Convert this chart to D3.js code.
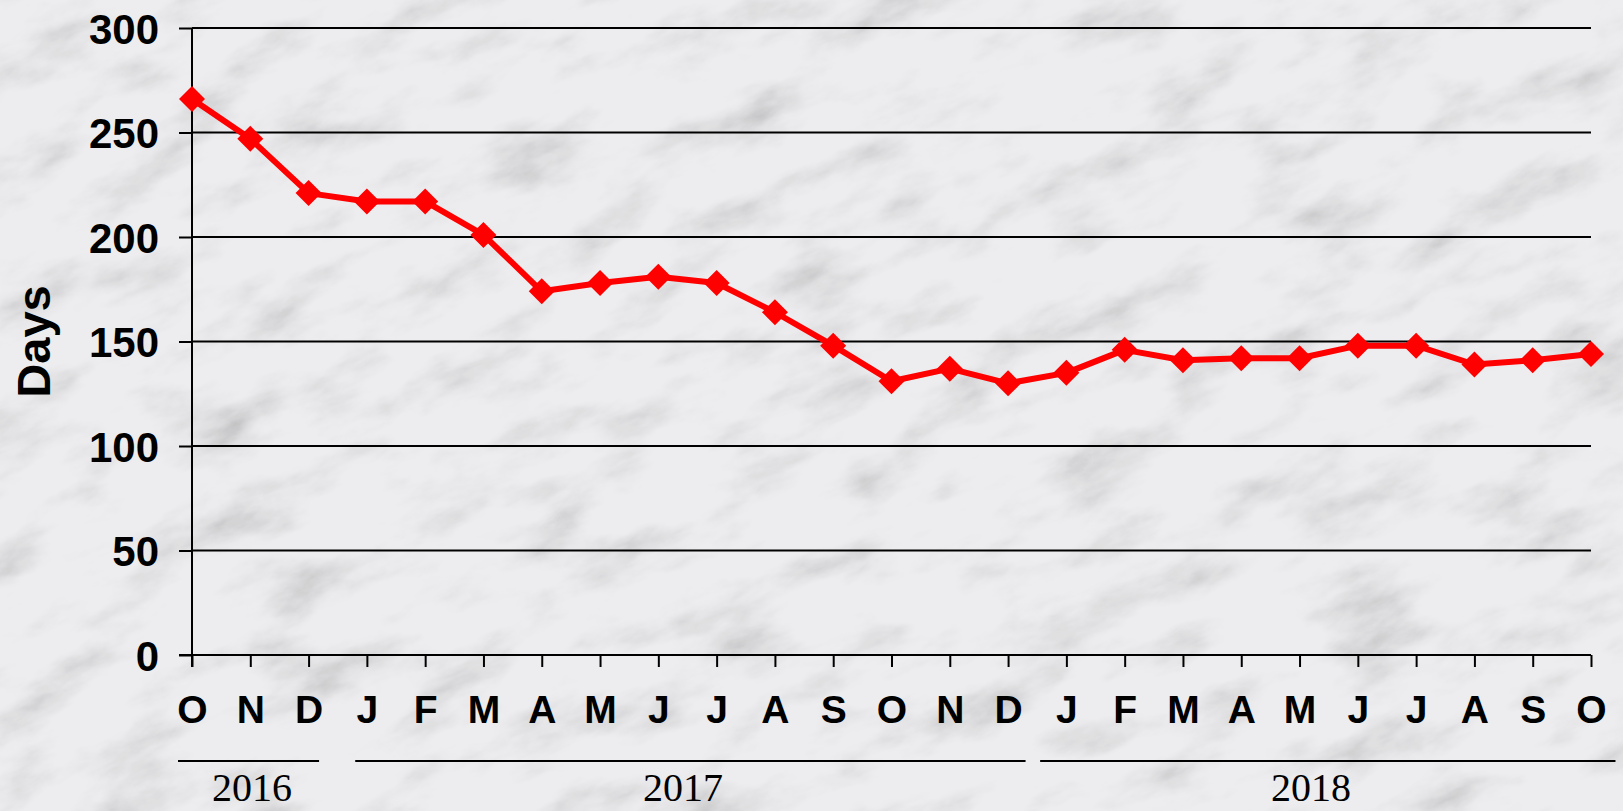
<!DOCTYPE html>
<html>
<head>
<meta charset="utf-8">
<script src="https://cdn.jsdelivr.net/npm/d3@7"></script>
<style>
  html, body { margin: 0; padding: 0; background: #e8e8ea; }
  svg { display: block; }
</style>
</head>
<body>
<svg id="chart" width="1623" height="811"></svg>
<script>
// ---- data ----
const months = ["O","N","D","J","F","M","A","M","J","J","A","S","O","N","D","J","F","M","A","M","J","J","A","S","O"];
const days   = [266, 247, 221, 217, 217, 201, 174, 178, 181, 178, 164, 148, 131, 137, 130, 135, 146, 141, 142, 142, 148, 148, 139, 141, 144];
const yTicks = [0, 50, 100, 150, 200, 250, 300];
const years      = ["2016", "2017", "2018"];
const yearStart  = [0, 3, 15];   // month index where each year begins
const yearEnd    = [2, 14, 24];  // month index where each year ends

const svg = d3.select("#chart");
const W = 1623, H = 811;

// ---- marble-like background ----
const defs = svg.append("defs");
const f = defs.append("filter").attr("id", "marble").attr("x", 0).attr("y", 0).attr("width", "100%").attr("height", "100%");
f.append("feTurbulence").attr("type", "fractalNoise").attr("baseFrequency", "0.01 0.022").attr("numOctaves", 6).attr("seed", 11).attr("result", "n");
f.append("feColorMatrix").attr("in", "n").attr("type", "matrix")
  .attr("values", "0 0 0 0 0  0 0 0 0 0  0 0 0 0 0  -1.5 0 0 0 0.9")
  .attr("result", "a");
f.append("feComponentTransfer").attr("in", "a").attr("result", "b")
  .append("feFuncA").attr("type", "gamma").attr("amplitude", 0.5).attr("exponent", 1.8).attr("offset", 0);
svg.append("rect").attr("width", W).attr("height", H).attr("fill", "#ededef");
svg.append("g").attr("transform", "rotate(-22 811 405)")
  .append("rect").attr("x", -300).attr("y", -400).attr("width", W + 600).attr("height", H + 800)
  .attr("fill", "#9c9ca0").attr("filter", "url(#marble)").attr("opacity", 0.5);

// ---- scales ----
const x = d3.scalePoint().domain(d3.range(months.length)).range([192, 1591]);
const y = d3.scaleLinear().domain([0, 300]).range([655, 28]);
const step = x.step();

const font = "Liberation Sans, Arial, Helvetica, sans-serif";

// ---- gridlines ----
svg.append("g").selectAll("line").data(yTicks.filter(d => d > 0)).join("line")
  .attr("x1", x(0)).attr("x2", x(months.length - 1))
  .attr("y1", d => y(d)).attr("y2", d => y(d))
  .attr("stroke", "#000").attr("stroke-width", 2);

// ---- y axis ----
const yAxis = svg.append("g").attr("transform", `translate(${x(0)},0)`)
  .call(d3.axisLeft(y).tickValues(yTicks).tickSize(13).tickPadding(20).tickSizeOuter(0));
yAxis.select(".domain").attr("stroke", "#000").attr("stroke-width", 2)
  .attr("d", `M0,${y(300)}V${y(0) + 12}`);
yAxis.selectAll(".tick line").attr("stroke", "#000").attr("stroke-width", 2);
yAxis.selectAll(".tick text").attr("font-family", font).attr("font-weight", "bold")
  .attr("font-size", 42).attr("fill", "#000").attr("dy", "0.36em");

// ---- x axis ----
const xAxis = svg.append("g").attr("transform", `translate(0,${y(0)})`)
  .call(d3.axisBottom(x).tickFormat(i => months[i]).tickSize(12).tickPadding(28).tickSizeOuter(0));
xAxis.select(".domain").attr("stroke", "#000").attr("stroke-width", 2)
  .attr("d", `M${x(0) - 13},0H${x(months.length - 1)}`);
xAxis.selectAll(".tick line").attr("stroke", "#000").attr("stroke-width", 2);
xAxis.selectAll(".tick text").attr("font-family", font).attr("font-weight", "bold")
  .attr("font-size", 39).attr("fill", "#000").attr("dy", "0.71em");

// ---- year brackets ----
const padL = [0.24, 0.2, 0.45];
const padR = [0.18, 0.3, 0.42];
const yearG = svg.append("g");
years.forEach((yr, k) => {
  const x1 = x(yearStart[k]) - padL[k] * step;
  const x2 = x(yearEnd[k]) + padR[k] * step;
  yearG.append("line").attr("x1", x1).attr("x2", x2).attr("y1", 761).attr("y2", 761)
    .attr("stroke", "#000").attr("stroke-width", 2);
});
const yearCenter = [252, 683, 1311];
yearG.selectAll("text").data(years).join("text")
  .attr("x", (d, k) => yearCenter[k]).attr("y", 801)
  .attr("text-anchor", "middle")
  .attr("font-family", "Liberation Serif, Times New Roman, serif")
  .attr("font-size", 40).attr("fill", "#000").text(d => d);

// ---- y title ----
svg.append("text")
  .attr("transform", `translate(50,${(y(0) + y(300)) / 2})) rotate(-90)`.replace("))", ")"))
  .attr("text-anchor", "middle")
  .attr("font-family", font).attr("font-weight", "bold").attr("font-size", 47)
  .attr("fill", "#000").text("Days");

// ---- line + markers ----
const line = d3.line().x((d, i) => x(i)).y(d => y(d));
svg.append("path").datum(days).attr("d", line)
  .attr("fill", "none").attr("stroke", "#ff0000").attr("stroke-width", 6).attr("stroke-linejoin", "round");

const r = 13;
svg.append("g").selectAll("path").data(days).join("path")
  .attr("d", (d, i) => {
    const cx = x(i), cy = y(d);
    return `M${cx},${cy - r}L${cx + r},${cy}L${cx},${cy + r}L${cx - r},${cy}Z`;
  })
  .attr("fill", "#ff0000");
</script>
</body>
</html>
